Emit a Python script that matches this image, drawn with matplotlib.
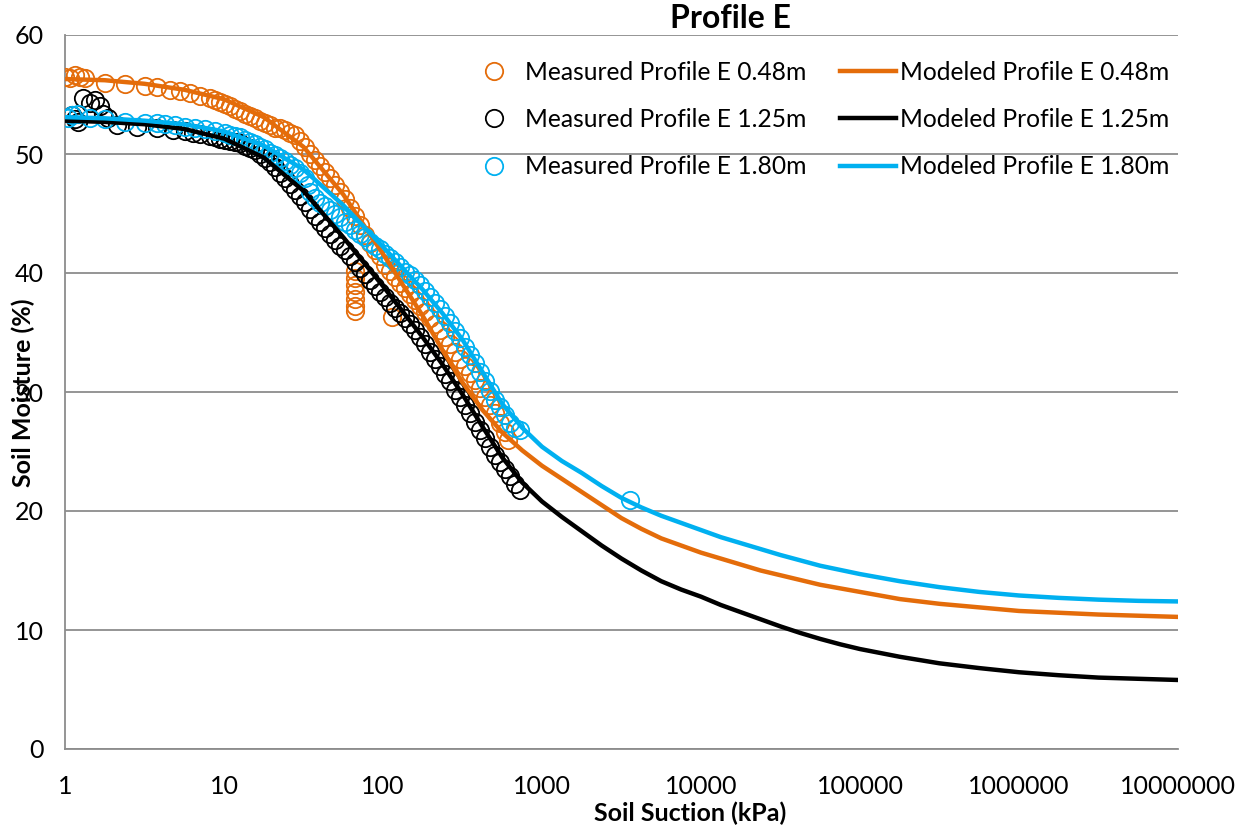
import matplotlib
matplotlib.use('Agg')
import matplotlib.pyplot as plt
from matplotlib.lines import Line2D

plt.rcParams['font.family'] = ['Lato', 'DejaVu Sans']

# measured data, profile E 0.48 m
suction_048 = [1.00, 1.075, 1.156, 1.243, 1.336, 1.785, 2.385, 3.185, 3.790, 4.575, 5.288, 6.112,
               7.063, 8.166, 8.779, 9.437, 10.15, 10.91, 11.73, 12.61, 13.56, 14.58, 15.67, 16.85,
               18.11, 19.47, 20.93, 22.50, 24.19, 26.0, 27.96, 30.06, 32.31, 34.74, 37.35, 40.15,
               43.17, 46.42, 49.9, 53.65, 57.68, 62.0, 66.7, 71.7, 77.1, 82.8, 89.1, 95.8, 103.0,
               110.7, 119.0, 127.9, 137.5, 147.9, 159.0, 170.9, 183.8, 197.5, 212.3, 228.3, 245.5,
               263.9, 283.8, 305.1, 328.0, 352.6, 379.1, 407.6, 438.2, 471.1, 506.4, 544.5, 585.4,
               611.0,
               66.7, 66.7, 66.7, 66.7, 66.7, 66.7, 66.7, 114.0]
moisture_048 = [56.5, 56.4, 56.6, 56.5, 56.4, 56.0, 55.9, 55.7, 55.6, 55.4, 55.3, 55.1,
                54.9, 54.7, 54.5, 54.4, 54.2, 54.0, 53.8, 53.6, 53.4, 53.2, 53.0, 52.8,
                52.6, 52.4, 52.2, 52.2, 52.0, 51.8, 51.6, 51.1, 50.6, 50.0, 49.5, 49.0,
                48.5, 48.0, 47.4, 46.8, 46.2, 45.5, 44.8, 44.0, 43.2, 42.5, 41.9, 41.4, 40.7,
                40.2, 39.7, 39.2, 38.7, 38.2, 37.7, 37.2, 36.7, 36.2, 35.7, 35.2, 34.6,
                34.0, 33.4, 32.8, 32.2, 31.6, 31.0, 30.3, 29.6, 28.9, 28.2, 27.4, 26.6,
                26.0,
                40.2, 39.6, 39.0, 38.4, 37.8, 37.2, 36.8, 36.3]

# measured data, profile E 1.25 m
suction_125 = [1.11, 1.156, 1.20, 1.30, 1.436, 1.544, 1.660, 1.74, 1.86, 2.124, 2.837, 3.790, 4.78,
               5.685, 6.38, 7.063, 8.166, 8.779, 9.437, 10.15, 10.91, 11.73, 12.61, 13.56, 14.58,
               15.67, 16.85, 18.11, 19.47, 20.93, 22.50, 24.19, 26.0, 27.96, 30.06, 32.31, 34.74,
               37.35, 40.15, 43.17, 46.42, 49.9, 53.65, 57.68, 62.0, 66.7, 71.7, 77.1, 82.8, 89.1,
               95.8, 103.0, 110.7, 119.0, 127.9, 137.5, 147.9, 159.0, 170.9, 183.8, 197.5, 212.3,
               228.3, 245.5, 263.9, 283.8, 305.1, 328.0, 352.6, 379.1, 407.6, 438.2, 471.1, 506.4,
               544.5, 585.4, 629.3, 676.6, 727.4]
moisture_125 = [53.3, 52.9, 52.7, 54.7, 54.3, 54.5, 54.0, 53.4, 53.0, 52.4, 52.3, 52.2, 52.0,
                51.9, 51.8, 51.7, 51.5, 51.4, 51.3, 51.2, 51.1, 51.0, 50.9, 50.7, 50.5,
                50.3, 50.0, 49.7, 49.3, 48.9, 48.4, 48.0, 47.5, 47.0, 46.5, 46.0, 45.4,
                44.8, 44.3, 43.8, 43.3, 42.8, 42.3, 41.9, 41.4, 40.9, 40.4, 39.9, 39.4, 38.9,
                38.4, 38.0, 37.5, 37.1, 36.6, 36.2, 35.7, 35.2, 34.6, 34.0, 33.4, 32.8,
                32.2, 31.5, 30.9, 30.2, 29.6, 28.9, 28.2, 27.5, 26.8, 26.1, 25.4, 24.7,
                24.1, 23.5, 22.9, 22.3, 21.8]

# measured data, profile E 1.80 m
suction_180 = [1.045, 1.11, 1.21, 1.436, 1.785, 2.385, 3.185, 3.790, 4.255, 4.95, 5.685, 6.57,
               7.594, 8.779, 10.15, 10.91, 11.73, 12.61, 13.56, 14.58, 15.67, 16.85, 18.11, 19.47,
               20.93, 22.50, 24.19, 26.0, 27.96, 30.06, 32.31, 33.8, 34.74, 37.35, 40.15, 43.17,
               46.42, 49.9, 53.65, 57.68, 62.0, 66.7, 71.7, 77.1, 82.8, 89.1, 95.8, 103.0, 110.7,
               119.0, 127.9, 137.5, 147.9, 159.0, 170.9, 183.8, 197.5, 212.3, 228.3, 245.5, 263.9,
               283.8, 305.1, 328.0, 352.6, 379.1, 407.6, 438.2, 471.1, 506.4, 544.5, 585.4, 629.3,
               676.6, 727.4, 3575]
moisture_180 = [53.0, 53.3, 53.4, 53.0, 52.9, 52.7, 52.6, 52.6, 52.5, 52.4, 52.3, 52.2,
                52.1, 51.9, 51.8, 51.6, 51.5, 51.4, 51.2, 51.0, 50.8, 50.6, 50.4, 50.1,
                49.9, 49.7, 49.4, 49.1, 48.8, 48.4, 48.0, 47.4, 46.8, 46.3, 45.9, 45.6,
                45.3, 45.0, 44.7, 44.3, 44.0, 43.6, 43.3, 43.0, 42.6, 42.3, 42.0, 41.6, 41.3,
                40.9, 40.5, 40.1, 39.8, 39.4, 39.0, 38.5, 38.0, 37.5, 37.0, 36.4, 35.8,
                35.1, 34.5, 33.8, 33.1, 32.4, 31.7, 30.9, 30.1, 29.3, 28.7, 28.1, 27.4,
                27.0, 26.8, 20.9]

# modeled curves (quarter decades, eighth decades on the bend)
suction_model = [1, 1.778, 3.162, 5.623, 10, 17.78, 31.62, 56.23, 100, 177.8,
                 237.1, 316.2, 421.7, 562.3, 749.9, 1000, 1334, 1778, 2371, 3162, 4217,
                 5623, 7499, 1e4, 13335, 17783, 23714, 31623, 42170, 56234, 74989, 1e5,
                 177828, 316228, 562341, 1e6, 1778279, 3162278, 5623413, 1e7]
model_048 = [56.3, 56.2, 55.9, 55.4, 54.6, 53.1, 50.6, 46.6, 41.6, 36.4,
             33.5, 30.8, 28.5, 26.6, 25.1, 23.8, 22.7, 21.6, 20.5, 19.4, 18.5,
             17.7, 17.1, 16.5, 16.0, 15.5, 15.0, 14.6, 14.2, 13.8, 13.5, 13.2,
             12.6, 12.2, 11.9, 11.6, 11.45, 11.3, 11.2, 11.1]
model_125 = [52.8, 52.7, 52.5, 52.1, 51.3, 49.7, 46.9, 43.0, 38.9, 34.6,
             32.3, 29.8, 27.1, 24.5, 22.4, 20.8, 19.5, 18.3, 17.1, 16.0, 15.0,
             14.1, 13.4, 12.8, 12.1, 11.5, 10.9, 10.3, 9.75, 9.25, 8.8, 8.4,
             7.75, 7.2, 6.8, 6.45, 6.2, 6.0, 5.9, 5.8]
model_180 = [53.1, 53.0, 52.8, 52.5, 51.9, 50.7, 48.7, 45.7, 42.2, 38.6,
             36.6, 34.4, 31.7, 29.0, 27.0, 25.4, 24.2, 23.2, 22.1, 21.1, 20.3,
             19.6, 19.0, 18.4, 17.8, 17.3, 16.8, 16.3, 15.85, 15.4, 15.05, 14.7,
             14.1, 13.6, 13.2, 12.9, 12.7, 12.55, 12.45, 12.4]

labels = ['0.48m', '1.25m', '1.80m']
colors = ['#E46C0A', '#000000', '#00B0F0']

fig = plt.figure(figsize=(12.44, 8.31), dpi=100)
ax = fig.add_axes([65 / 1244, 1 - 749 / 831, (1178 - 65) / 1244, (749 - 35) / 831])

measured = [(suction_048, moisture_048), (suction_125, moisture_125), (suction_180, moisture_180)]
modeled = [model_048, model_125, model_180]

for (sx, sy), my, c in zip(measured, modeled, colors):
    ax.plot(sx, sy, linestyle='none', marker='o', markersize=12.5, markerfacecolor='none',
            markeredgecolor=c, markeredgewidth=1.3, zorder=3)
    ax.plot(suction_model, my, color=c, linewidth=3.2, solid_capstyle='round',
            solid_joinstyle='round', zorder=4)

ax.set_xscale('log')
ax.set_xlim(1, 1e7)
ax.set_ylim(0, 60)
ax.set_xticks([1, 10, 100, 1000, 1e4, 1e5, 1e6, 1e7])
ax.set_xticklabels(['1', '10', '100', '1000', '10000', '100000', '1000000', '10000000'])
ax.xaxis.set_minor_locator(matplotlib.ticker.NullLocator())
ax.set_yticks(range(0, 61, 10))
ax.tick_params(axis='both', length=0, labelsize=18, colors='#000000')
ax.tick_params(axis='x', pad=19)
ax.tick_params(axis='y', pad=15)
ax.grid(axis='y', color='#8c8c8c', linewidth=1.3)
ax.set_axisbelow(True)
for s in ['top', 'right']:
    ax.spines[s].set_visible(False)
for s in ['left', 'bottom']:
    ax.spines[s].set_color('#8c8c8c')
    ax.spines[s].set_linewidth(1.3)

handles = []
for lab, c in zip(labels, colors):
    handles.append(Line2D([], [], linestyle='none', marker='o', markersize=12.5, markerfacecolor='none',
                          markeredgecolor=c, markeredgewidth=1.3, label='Measured Profile E ' + lab))
for lab, c in zip(labels, colors):
    handles.append(Line2D([], [], color=c, linewidth=3.2, label='Modeled Profile E ' + lab))
ax.legend(handles=handles, ncol=2, frameon=False, fontsize=17.7, loc='upper right',
          bbox_to_anchor=(1169 / 1244, 1 - 61 / 831), bbox_transform=fig.transFigure,
          handlelength=2.3, handletextpad=0.13, columnspacing=1.35, labelspacing=0.98,
          borderaxespad=0, borderpad=0)

fig.text(730 / 1244, 1 - 18 / 831, 'Profile E', ha='center', va='center', fontsize=23,
         fontweight='bold')
fig.text(690 / 1244, 1 - 813 / 831, 'Soil Suction (kPa)', ha='center', va='center', fontsize=18,
         fontweight='bold')
fig.text(23 / 1244, 1 - 393 / 831, 'Soil Moisture (%)', ha='center', va='center', fontsize=18,
         fontweight='bold', rotation=90)

fig.savefig('out.png', dpi=100)
